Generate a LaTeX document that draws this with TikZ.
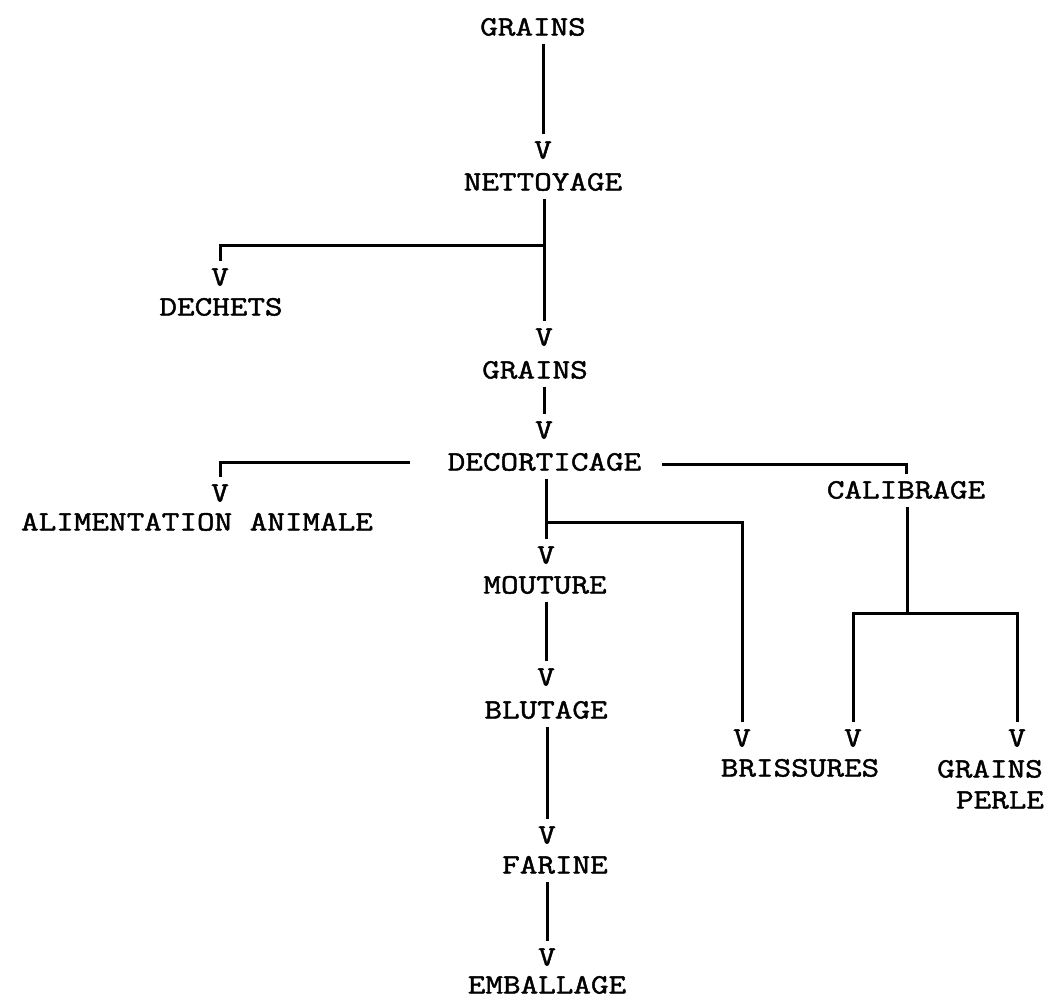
\documentclass[tikz,border=0pt]{standalone}
\usepackage{fontspec}
\newfontfamily\tw[FakeStretch=1.22,FakeBold=1.6]{Latin Modern Mono}
\begin{document}
\begin{tikzpicture}[x=1pt,y=-1pt,
  lbl/.style={font={\tw\fontsize{28}{30}\selectfont}, inner sep=0pt, outer sep=8pt, text height=17pt, text depth=0pt},
  conn/.style={line width=3pt}]
\useasboundingbox (0,0) rectangle (1049,1001);
% nodes
\node[lbl] (g1) at (533,27) {GRAINS};
\node[lbl] (v1) at (543,150) {V};
\node[lbl] (nett) at (543,182) {NETTOYAGE};
\coordinate (j1) at (543,245);
\node[lbl] (v2) at (220,277) {V};
\node[lbl] (dech) at (221,307) {DECHETS};
\node[lbl] (v3) at (544,337) {V};
\node[lbl] (g2) at (535,370) {GRAINS};
\node[lbl] (v4) at (544,430) {V};
\node[lbl] (deco) at (544.5,462) {DECORTICAGE};
\node[lbl] (v5) at (220,493) {V};
\node[lbl] (alim) at (197,522) {ALIMENTATION ANIMALE};
\node[lbl] (calib) at (906,490) {CALIBRAGE};
\coordinate (j2) at (546,522);
\node[lbl] (v6) at (546,555) {V};
\node[lbl] (mout) at (545,585) {MOUTURE};
\node[lbl] (v7) at (546,677) {V};
\node[lbl] (blut) at (546,710) {BLUTAGE};
\node[lbl] (v8) at (547,835) {V};
\node[lbl] (far) at (555,865) {FARINE};
\node[lbl, outer sep=0pt] (v9) at (547,957) {V};
\node[lbl, outer sep=0pt] (emb) at (547,985) {EMBALLAGE};
\node[lbl] (v10) at (742,738) {V};
\node[lbl] (bris) at (800,768) {BRISSURES};
\coordinate (j3) at (907,613);
\node[lbl] (v11) at (853,738) {V};
\node[lbl] (v12) at (1017,738) {V};
\node[lbl] (gp1) at (990,769) {GRAINS};
\node[lbl] (gp2) at (1000,800) {PERLE};
% connectors
\draw[conn] (v1.north |- g1.south) -- (v1.north);
\draw[conn] (v3.north |- nett.south) -- (v3.north);
\draw[conn] (j1) -| (v2.north);
\draw[conn] (v4.north |- g2.south) -- (v4.north);
\draw[conn] ([xshift=-30pt]deco.west) -| (v5.north);
\draw[conn] ([xshift=13pt,yshift=-2pt]deco.east) -| (calib.north);
\draw[conn] (v6.north |- deco.south) -- (v6.north);
\draw[conn] (j2) -| (v10.north);
\draw[conn] (j3 |- calib.south) -- (j3);
\draw[conn] (v11.north) |- (j3) -| (v12.north);
\draw[conn] (v7.north |- mout.south) -- (v7.north);
\draw[conn] (v8.north |- blut.south) -- (v8.north);
\draw[conn, shorten >=8pt] (v9.north |- far.south) -- (v9.north);
\end{tikzpicture}
\end{document}
